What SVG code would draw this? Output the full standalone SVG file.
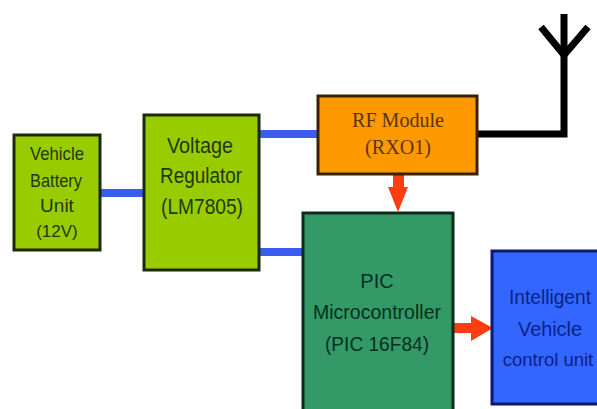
<svg xmlns="http://www.w3.org/2000/svg" width="597" height="409" viewBox="0 0 597 409">
<style>
.box{stroke-width:3}
.t{font-family:"Liberation Sans",Arial,sans-serif;text-anchor:middle}
.s{font-family:"Liberation Serif","Times New Roman",serif;text-anchor:middle}
.blue{stroke:#3a5cf0;stroke-width:8;fill:none}
.blk{stroke:#000;stroke-width:7;fill:none}
.red{fill:#ff3d12}
</style>
<rect width="597" height="409" fill="#fff"/>
<g id="connectors">
<path class="blue" d="M101 193H143"/>
<path class="blue" d="M260 134H318"/>
<path class="blue" d="M260 252H303"/>
<path class="blk" d="M477 134H564V14"/>
<path class="blk" d="M541 27L564 55L588 27"/>
<path class="red" d="M393 175H404V187H408L398 212L388 187H393Z"/>
<path class="red" d="M453 323H471V316L493 328L471 341V333H453Z"/>
</g>
<g id="battery">
<rect class="box" x="14" y="135" width="86" height="115" fill="#99cc00" stroke="#1c2a0a"/>
<g font-size="19" fill="#1f3800">
<text class="t" x="57" y="160" textLength="54" lengthAdjust="spacingAndGlyphs">Vehicle</text>
<text class="t" x="56" y="187" textLength="52" lengthAdjust="spacingAndGlyphs">Battery</text>
<text class="t" x="57" y="212">Unit</text>
<text class="t" x="57" y="237" font-size="17">(12V)</text>
</g>
</g>
<g id="regulator">
<rect class="box" x="144" y="115" width="115" height="155" fill="#99cc00" stroke="#1c2a0a"/>
<g font-size="22" fill="#1f3800">
<text class="t" x="200" y="153" textLength="66" lengthAdjust="spacingAndGlyphs">Voltage</text>
<text class="t" x="201" y="183" textLength="82" lengthAdjust="spacingAndGlyphs">Regulator</text>
<text class="t" x="202" y="214" textLength="82" lengthAdjust="spacingAndGlyphs">(LM7805)</text>
</g>
</g>
<g id="rf-module">
<rect class="box" x="318" y="96" width="159" height="78" fill="#ff9900" stroke="#3a2200"/>
<g font-size="21" fill="#5a3400">
<text class="s" x="398" y="127" textLength="92" lengthAdjust="spacingAndGlyphs">RF Module</text>
<text class="s" x="398" y="154" textLength="66" lengthAdjust="spacingAndGlyphs">(RXO1)</text>
</g>
</g>
<g id="pic">
<rect class="box" x="303" y="213" width="150" height="200" fill="#339966" stroke="#0d2a1a"/>
<g font-size="20" fill="#06301d">
<text class="t" x="377" y="288">PIC</text>
<text class="t" x="377" y="319" textLength="128" lengthAdjust="spacingAndGlyphs">Microcontroller</text>
<text class="t" x="377" y="351" textLength="104" lengthAdjust="spacingAndGlyphs">(PIC 16F84)</text>
</g>
</g>
<g id="control-unit">
<rect class="box" x="492" y="251" width="110" height="153" fill="#3366ff" stroke="#0a1a70"/>
<g font-size="20" fill="#0a2288">
<text class="t" x="550" y="304" textLength="82" lengthAdjust="spacingAndGlyphs">Intelligent</text>
<text class="t" x="550" y="336" textLength="64" lengthAdjust="spacingAndGlyphs">Vehicle</text>
<text class="t" x="548" y="366" font-size="18.5">control unit</text>
</g>
</g>
</svg>
